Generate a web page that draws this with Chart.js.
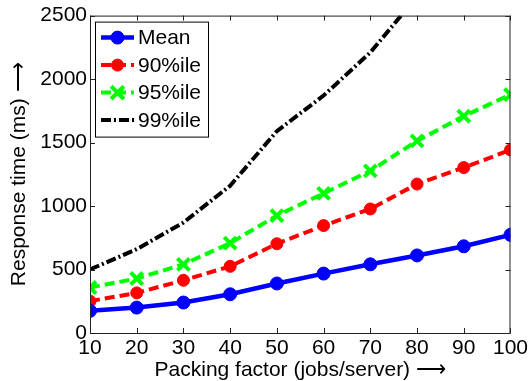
<!DOCTYPE html>
<html>
<head>
<meta charset="utf-8">
<script src="https://cdn.jsdelivr.net/npm/chart.js@4/dist/chart.umd.min.js"></script>
<style>
  html, body { margin: 0; padding: 0; background: #fff; }
  #wrap { width: 531px; height: 381px; }
</style>
</head>
<body>
<div id="wrap"><canvas id="chart" width="531" height="381"></canvas></div>
<script>
// ── Datos ────────────────────────────────────────────────────────────────
const packing   = [10, 20, 30, 40, 50, 60, 70, 80, 90, 100];
const meanMs    = [175, 200, 240, 305, 390, 468, 541, 611, 683, 773];
const p90Ms     = [251, 316, 415, 525, 703, 846, 977, 1173, 1303, 1442];
const p95Ms     = [358, 429, 541, 708, 925, 1100, 1277, 1513, 1708, 1878];
const p99Ms     = [500, 660, 870, 1160, 1590, 1870, 2210, 2650, null, null];
const seriesNames = ['Mean', '90%ile', '95%ile', '99%ile'];
const yTicks    = [0, 500, 1000, 1500, 2000, 2500];

const FONT = "'Liberation Sans', Arial, sans-serif";
const toPts = arr => packing.map((x, i) => ({ x, y: arr[i] }));

// ── Leyenda y marco estilo MATLAB ────────────────────────────────────────
const matlabFrame = {
    id: 'matlabFrame',
    afterDatasetsDraw(chart) {
        const { ctx, chartArea: a, scales } = chart;
        ctx.save();
        // marco
        ctx.strokeStyle = '#222';
        ctx.lineWidth = 1;
        ctx.strokeRect(a.left + 0.5, a.top + 0.5, a.right - a.left - 1, a.bottom - a.top);
        // marcas hacia dentro
        const L = 5;
        ctx.beginPath();
        packing.forEach(v => {
            const x = Math.round(scales.x.getPixelForValue(v)) + 0.5;
            ctx.moveTo(x, a.bottom); ctx.lineTo(x, a.bottom - L);
            ctx.moveTo(x, a.top);    ctx.lineTo(x, a.top + L);
        });
        yTicks.forEach(v => {
            const y = Math.round(scales.y.getPixelForValue(v)) + 0.5;
            ctx.moveTo(a.left, y);  ctx.lineTo(a.left + L, y);
            ctx.moveTo(a.right, y); ctx.lineTo(a.right - L, y);
        });
        ctx.stroke();

        // leyenda
        const bx = a.left + 5, by = a.top + 6, bw = 113, bh = 115;
        ctx.fillStyle = '#fff';
        ctx.fillRect(bx, by, bw, bh);
        ctx.strokeStyle = '#000';
        ctx.strokeRect(bx + 0.5, by + 0.5, bw, bh);
        ctx.font = `21px ${FONT}`;
        ctx.textBaseline = 'middle';
        chart.data.datasets.forEach((ds, i) => {
            const y = by + 16 + i * 27.5;
            const x0 = bx + 6, x1 = bx + 39, xm = (x0 + x1) / 2;
            ctx.strokeStyle = ds.borderColor;
            ctx.lineWidth = ds.borderWidth;
            ctx.setLineDash(ds.borderDash || []);
            ctx.beginPath(); ctx.moveTo(x0, y); ctx.lineTo(x1, y); ctx.stroke();
            ctx.setLineDash([]);
            if (ds.pointRadius > 0) {
                ctx.fillStyle = ds.pointBackgroundColor;
                ctx.strokeStyle = ds.borderColor;
                ctx.lineWidth = ds.pointBorderWidth;
                ctx.beginPath();
                if (ds.pointStyle === 'circle') {
                    ctx.arc(xm, y, ds.pointRadius, 0, Math.PI * 2);
                    ctx.fill(); ctx.stroke();
                } else {
                    const r = ds.pointRadius * 0.75;
                    ctx.moveTo(xm - r, y - r); ctx.lineTo(xm + r, y + r);
                    ctx.moveTo(xm + r, y - r); ctx.lineTo(xm - r, y + r);
                    ctx.stroke();
                }
            }
            ctx.fillStyle = '#000';
            ctx.fillText(seriesNames[i], bx + 43, y + 1);
        });
        ctx.restore();
    }
};

new Chart(document.getElementById('chart'), {
    type: 'line',
    data: {
        datasets: [
            { label: seriesNames[0], data: toPts(meanMs), borderColor: '#0000ff', backgroundColor: '#0000ff',
              pointBackgroundColor: '#0000ff', borderWidth: 4.5, pointStyle: 'circle', pointRadius: 6.5, pointBorderWidth: 1 },
            { label: seriesNames[1], data: toPts(p90Ms), borderColor: '#ff0000', backgroundColor: '#ff0000',
              pointBackgroundColor: '#ff0000', borderWidth: 4, borderDash: [10, 5], pointStyle: 'circle', pointRadius: 6, pointBorderWidth: 1 },
            { label: seriesNames[2], data: toPts(p95Ms), borderColor: '#00ff00', backgroundColor: '#00ff00',
              pointBackgroundColor: '#00ff00', borderWidth: 4, borderDash: [10, 5], pointStyle: 'crossRot', pointRadius: 8.5, pointBorderWidth: 4 },
            { label: seriesNames[3], data: toPts(p99Ms), borderColor: '#000000', backgroundColor: '#000000',
              pointBackgroundColor: '#000000', borderWidth: 4, borderDash: [10, 3, 2, 3], pointRadius: 0, pointBorderWidth: 0 }
        ]
    },
    options: {
        responsive: false,
        animation: false,
        devicePixelRatio: 1,
        spanGaps: false,
        layout: { padding: { top: 14, right: 20, left: 0, bottom: 0 } },
        plugins: { legend: { display: false }, tooltip: { enabled: false } },
        scales: {
            x: {
                type: 'linear', min: 10, max: 100,
                border: { display: false },
                grid: { display: false, drawTicks: false },
                ticks: { stepSize: 10, padding: 3, color: '#000', font: { family: FONT, size: 21 } },
                title: { display: true, text: 'Packing factor (jobs/server) ⟶', color: '#000',
                         padding: { top: 0, bottom: 0 }, font: { family: FONT, size: 21, lineHeight: 1 } },
                afterFit: s => { s.height = 48; }
            },
            y: {
                min: 0, max: 2500,
                border: { display: false },
                grid: { display: false, drawTicks: false },
                afterBuildTicks: s => { s.ticks = yTicks.map(v => ({ value: v })); },
                ticks: { padding: 3, color: '#000', font: { family: FONT, size: 21 },
                         callback: v => String(v) },
                title: { display: true, text: 'Response time (ms) ⟶', color: '#000',
                         padding: { top: 9, bottom: 0 }, font: { family: FONT, size: 21, lineHeight: 1 } },
                afterFit: s => { s.width = 90; }
            }
        }
    },
    plugins: [matlabFrame]
});
</script>
</body>
</html>
